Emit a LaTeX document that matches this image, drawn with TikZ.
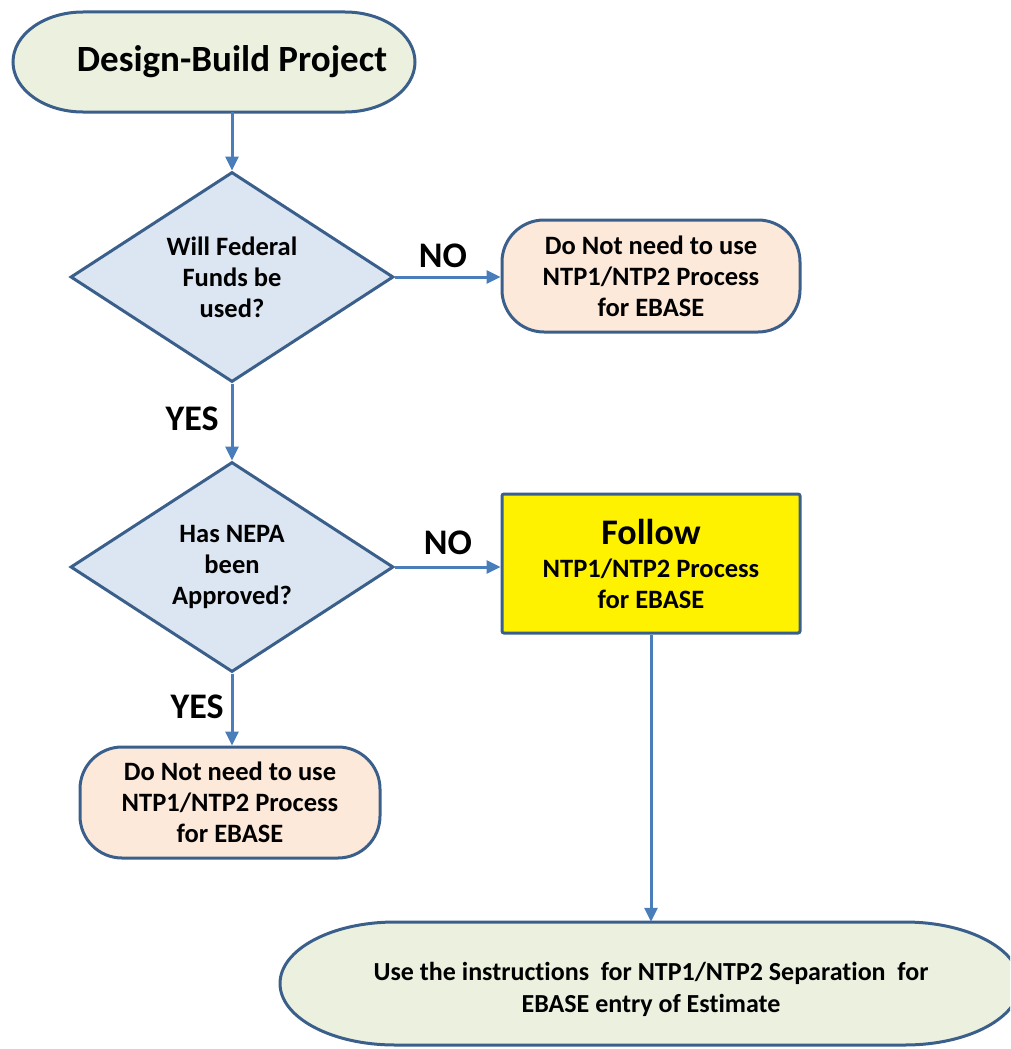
\documentclass[tikz,border=0pt]{standalone}
\usepackage{fontspec}
\setmainfont{Carlito}[Ligatures=NoCommon]
\usetikzlibrary{shapes.geometric,arrows.meta}
\definecolor{edge}{HTML}{3A5F8B}
\definecolor{arr}{HTML}{4A7EBB}
\definecolor{termfill}{HTML}{EBF1DE}
\definecolor{decfill}{HTML}{DCE6F2}
\definecolor{peach}{HTML}{FDE9D9}
\begin{document}
\begin{tikzpicture}[x=1pt,y=-1pt,
  txt/.style={font=\bfseries\fontsize{26.5}{31}\selectfont, align=center},
  lbl/.style={font=\bfseries\fontsize{36}{42}\selectfont},
  outline/.style={draw=edge, line width=3pt},
  decision/.style={diamond, outline, fill=decfill, minimum width=323pt, minimum height=210pt, inner sep=0pt, shape aspect=1.54, txt},
  softbox/.style={rectangle, rounded corners=42pt, outline, fill=peach, minimum width=298pt, minimum height=112pt, inner sep=0pt, txt},
  conn/.style={draw=arr, line width=3pt, -{Triangle[length=14pt,width=13pt]}}
]
\useasboundingbox (0,0) rectangle (1010,1049);
\clip (0,0) rectangle (1010,1049);
% top terminal outline
\draw[outline, fill=termfill] (83,12) -- (345,12)
  arc[start angle=90, end angle=-90, x radius=70pt, y radius=50pt]
  -- (83,112) arc[start angle=270, end angle=90, x radius=70pt, y radius=50pt] -- cycle;
\node[font=\bfseries\fontsize{37}{44}\selectfont, minimum height=100pt, inner sep=0pt] (start) at (232,62) {Design-Build Project};
% decisions
\node[decision] (d1) at (232,277) {Will Federal\\Funds be\\used?};
\node[decision] (d2) at (232,567) {Has NEPA\\been\\Approved?};
% boxes
\node[softbox] (b1) at (651,276) {Do Not need to use\\NTP1/NTP2 Process\\for EBASE};
\node[softbox, minimum width=300pt, minimum height=111pt] (b3) at (230,802.5) {Do Not need to use\\NTP1/NTP2 Process\\for EBASE};
\node[rectangle, rounded corners=2pt, outline, fill=yellow, minimum width=298pt, minimum height=139pt, inner sep=0pt, txt] (follow) at (651,563.5)
  {{\fontsize{36}{40}\selectfont Follow}\\[2pt]NTP1/NTP2 Process\\for EBASE};
% bottom terminal outline
\draw[outline, fill=termfill] (395,922) -- (905,922)
  arc[start angle=90, end angle=-90, x radius=115pt, y radius=61.5pt]
  -- (395,1045) arc[start angle=270, end angle=90, x radius=115pt, y radius=61.5pt] -- cycle;
\node[font=\bfseries\fontsize{26}{32}\selectfont, align=center, minimum height=134pt, inner sep=0pt] (finish) at (651,989)
  {Use the instructions\ \ for NTP1/NTP2 Separation\ \ for\\EBASE entry of Estimate};
% labels
\node[lbl] (no1) at (443,256) {NO};
\node[lbl] (no2) at (448,543) {NO};
\node[lbl] (yes1) at (192,419) {YES};
\node[lbl] (yes2) at (197,707) {YES};
% connectors
\draw[conn] (start.south) -- (d1.north);
\draw[conn] (d1.east) -- (d1.east -| b1.west);
\draw[conn] (d1.south) -- (d2.north);
\draw[conn] (d2.east) -- (d2.east -| follow.west);
\draw[conn] (d2.south) -- (d2.south |- b3.north);
\draw[conn] (follow.south) -- (finish.north);
\end{tikzpicture}
\end{document}
